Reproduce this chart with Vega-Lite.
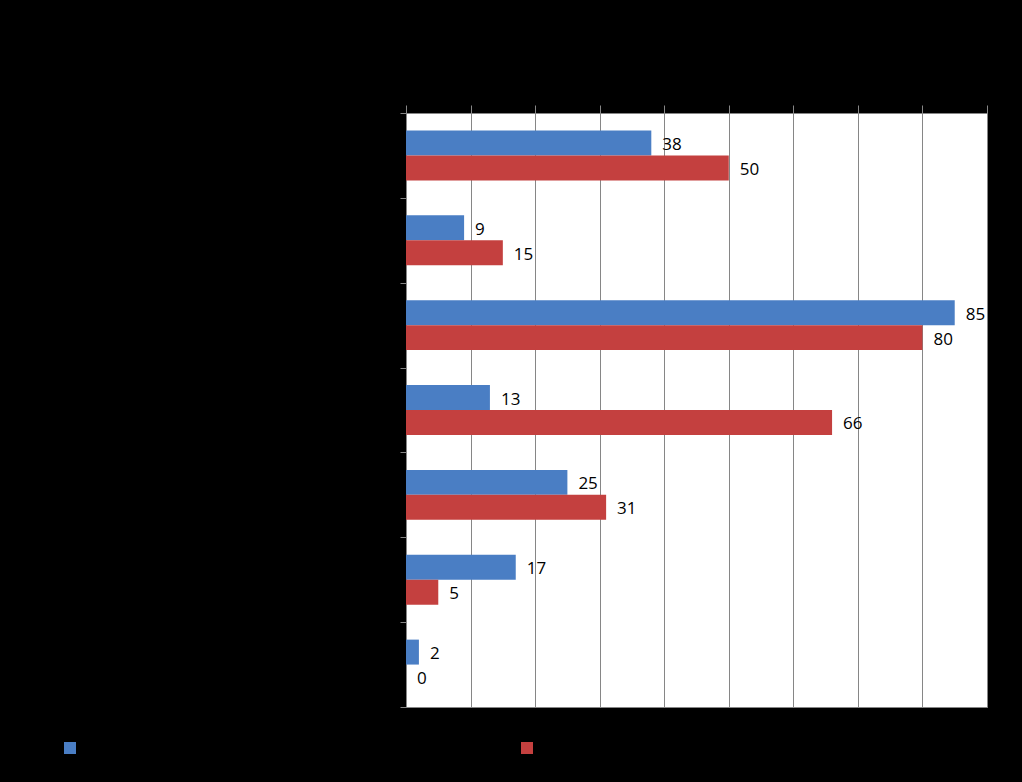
{
  "$schema": "https://vega.github.io/schema/vega-lite/v6.json",
  "autosize": "none",
  "width": 581,
  "height": 594,
  "padding": {"left": 406, "top": 113, "right": 35, "bottom": 75},
  "background": "#000000",
  "config": {
    "view": {"fill": "#ffffff", "stroke": "#868686", "strokeWidth": 1},
    "font": "DejaVu Sans"
  },
  "data": {
    "values": [
      {"category": "Category 1", "series": "Series 1", "value": 38},
      {"category": "Category 1", "series": "Series 2", "value": 50},
      {"category": "Category 2", "series": "Series 1", "value": 9},
      {"category": "Category 2", "series": "Series 2", "value": 15},
      {"category": "Category 3", "series": "Series 1", "value": 85},
      {"category": "Category 3", "series": "Series 2", "value": 80},
      {"category": "Category 4", "series": "Series 1", "value": 13},
      {"category": "Category 4", "series": "Series 2", "value": 66},
      {"category": "Category 5", "series": "Series 1", "value": 25},
      {"category": "Category 5", "series": "Series 2", "value": 31},
      {"category": "Category 6", "series": "Series 1", "value": 17},
      {"category": "Category 6", "series": "Series 2", "value": 5},
      {"category": "Category 7", "series": "Series 1", "value": 2},
      {"category": "Category 7", "series": "Series 2", "value": 0}
    ]
  },
  "encoding": {
    "y": {
      "field": "category", "type": "nominal", "sort": null,
      "scale": {"paddingInner": 0, "paddingOuter": 0},
      "axis": {"title": null, "orient": "left", "tickBand": "extent", "tickColor": "#868686", "tickSize": 6, "domainColor": "#868686", "labelColor": "#000000", "grid": false}
    },
    "yOffset": {"field": "series", "type": "nominal", "scale": {"paddingInner": 0, "paddingOuter": 0.7}},
    "x": {
      "field": "value", "type": "quantitative",
      "scale": {"domain": [0, 90], "nice": false},
      "axis": {"title": null, "orient": "top", "values": [0,10,20,30,40,50,60,70,80,90], "tickColor": "#868686", "tickSize": 8, "domainColor": "#868686", "gridColor": "#868686", "gridOpacity": 1, "labelColor": "#000000"}
    }
  },
  "layer": [
    {
      "mark": {"type": "bar"},
      "encoding": {
        "color": {
          "field": "series", "type": "nominal",
          "scale": {"domain": ["Series 1", "Series 2"], "range": ["#4A7EC4", "#C4403F"]},
          "legend": {
            "title": null, "orient": "none", "direction": "horizontal",
            "legendX": -342, "legendY": 629,
            "symbolType": "square", "symbolSize": 144, "symbolStrokeWidth": 0,
            "labelColor": "#000000", "labelFontSize": 11, "columnPadding": 396
          }
        }
      }
    },
    {
      "mark": {"type": "text", "align": "left", "baseline": "middle", "dx": 11, "dy": 2, "fontSize": 17, "color": "#000000", "font": "Open Sans"},
      "encoding": {"text": {"field": "value", "type": "quantitative"}}
    }
  ]
}
